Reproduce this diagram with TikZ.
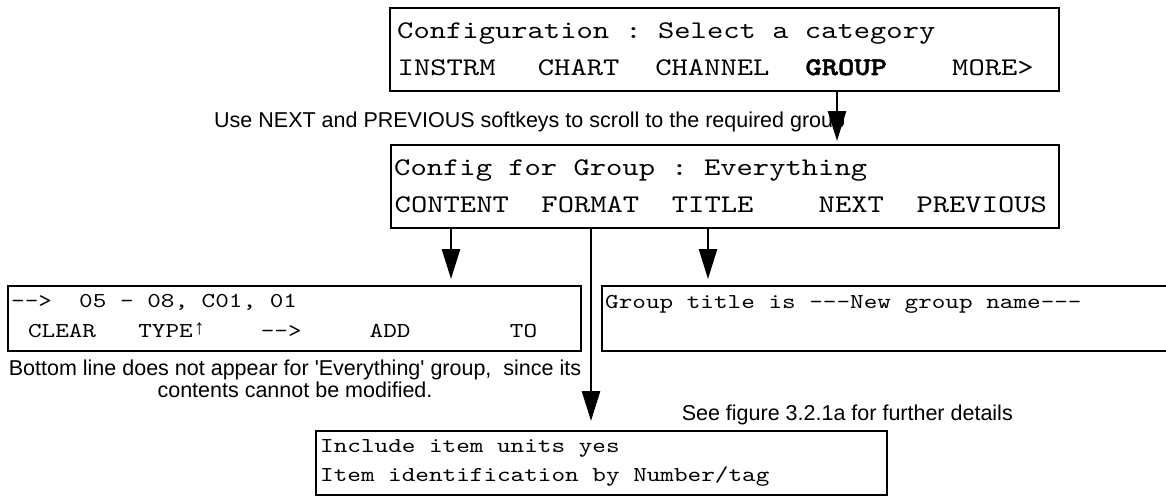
\documentclass[tikz,border=0pt]{standalone}
\usepackage{fontspec}
\usetikzlibrary{arrows.meta}
\newfontfamily\lcd{lmmono10-regular.otf}[Ligatures=TeXOff, FakeStretch=1.223, BoldFont=lmmonolt10-bold.otf, BoldFeatures={FakeStretch=1.223, FakeBold=2}]
\newfontfamily\lbl{Liberation Sans}[Ligatures=TeXOff]
\newcommand\chat[2]{\rlap{\hspace*{#1\fontcharwd\font`M}#2}}
\frenchspacing
\begin{document}
\begin{tikzpicture}[x=1pt,y=-1pt,
  lcdbox/.style={draw=black, line width=2pt, rectangle, anchor=north west, inner sep=0pt},
  toptext/.style={anchor=base west, inner sep=0pt, font=\lcd\fontsize{25.4}{30}\selectfont},
  lowtext/.style={anchor=base west, inner sep=0pt, font=\lcd\fontsize{21.2}{26}\selectfont},
  note/.style={inner sep=0pt, font=\lbl\fontsize{21.5}{24}\selectfont},
  arr/.style={line width=2.7pt, -{Triangle[length=30pt,width=18pt]}}]
\useasboundingbox (0,0) rectangle (1166,496);
\clip (0,0) rectangle (1166,496);

% top display
\node[lcdbox, minimum width=669pt, minimum height=83pt] (cfg) at (389,7) {};
\node[toptext] (cfg1) at (397,38) {Configuration : Select a category};
\node[toptext] (cfg2) at (397,75) {\chat{0}{INSTRM}\chat{8.6}{CHART}\chat{15.8}{CHANNEL}\chat{25}{\bfseries GROUP}\chat{34}{MORE>}};

% group display
\node[note, anchor=base west] (hint) at (214,127) {Use NEXT and PREVIOUS softkeys to scroll to the required group};
\node[lcdbox, minimum width=668pt, minimum height=83pt] (grp) at (390,144) {};
\node[toptext] (grp1) at (394,175) {Config for Group : Everything};
\node[toptext] (grp2) at (394,212) {\chat{0}{CONTENT}\chat{9}{FORMAT}\chat{17}{TITLE}\chat{26}{NEXT}\chat{32}{PREVIOUS}};

% content display
\node[lcdbox, minimum width=573pt, minimum height=65pt] (cont) at (7,285) {};
\node[lowtext] (cont1) at (11,307) {-->\ \ 05 - 08, C01, 01};
\node[lowtext] (cont2) at (11,337) {\chat{1.2}{CLEAR}\chat{9.3}{TYPE}\chat{13.4}{\raisebox{3pt}{\lbl\fontsize{21}{21}\selectfont ↑}}\chat{18.3}{-->}\chat{26.3}{ADD}\chat{36.6}{TO}};
\node[note, anchor=base] (cap1) at (295,375) {Bottom line does not appear for 'Everything' group,\ \ since its};
\node[note, anchor=base] (cap2) at (295,397) {contents cannot be modified.};

% title display
\node[lcdbox, minimum width=580pt, minimum height=65pt] (title) at (601,285) {};
\node[lowtext] (title1) at (605,308) {Group title is ---New group name---};

% format display
\node[note, anchor=base east] (see) at (1013,420) {See figure 3.2.1a for further details};
\node[lcdbox, minimum width=571pt, minimum height=64pt] (fmt) at (315,430) {};
\node[lowtext] (fmt1) at (320,452) {Include item units yes};
\node[lowtext] (fmt2) at (320,481) {Item identification by Number/tag};

% connectors
\coordinate (xg) at (837,0);
\coordinate (xc) at (451,0);
\coordinate (xf) at (591,0);
\coordinate (xt) at (708,0);
\draw[arr, shorten >=3pt] (cfg.south -| xg) -- (grp.north -| xg);
\draw[arr, shorten >=6pt] (grp.south -| xc) -- (cont.north -| xc);
\draw[arr, shorten >=6pt] (grp.south -| xt) -- (title.north -| xt);
\draw[arr, shorten >=9pt] (grp.south -| xf) -- (fmt.north -| xf);
\end{tikzpicture}
\end{document}
